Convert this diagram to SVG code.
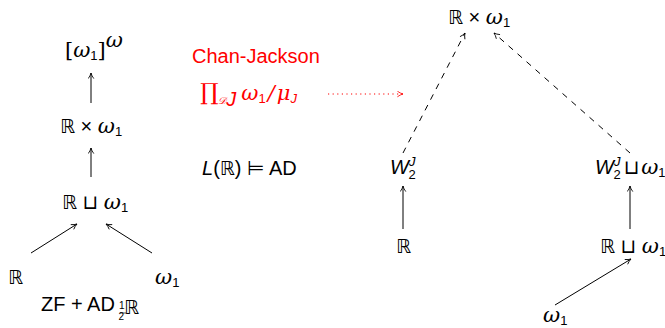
<svg xmlns="http://www.w3.org/2000/svg" width="665" height="328" viewBox="0 0 665 328">
<defs>
<style>
text{font-family:"Liberation Sans","DejaVu Sans",sans-serif;font-size:20px;fill:#000}
.m{font-family:"Liberation Sans",sans-serif;font-style:italic;font-size:20px}
.w{font-family:"DejaVu Serif",serif;font-style:italic;font-size:21px}
.bb{font-family:"DejaVu Sans",sans-serif;font-size:19px}
.s{font-size:13px}
.red{fill:#ff0000}
.ln{stroke:#000;stroke-width:1;fill:none}
.da{stroke-dasharray:6,6}
.dot{stroke:#ff0000;stroke-dasharray:1.2,3.4}
</style>
<marker id="ah" viewBox="0 0 10 10" refX="9" refY="5" markerWidth="7" markerHeight="7" orient="auto" markerUnits="userSpaceOnUse">
<path d="M1,1 Q5,4 9,5 Q5,6 1,9" fill="none" stroke="#000" stroke-width="1.2"/>
</marker>
<marker id="ahr" viewBox="0 0 10 10" refX="9" refY="5" markerWidth="7" markerHeight="7" orient="auto" markerUnits="userSpaceOnUse">
<path d="M1,1 Q5,4 9,5 Q5,6 1,9" fill="none" stroke="#ff0000" stroke-width="1.2"/>
</marker>
</defs>
<rect width="665" height="328" fill="#fff"/>

<g id="connectors">
<line class="ln" x1="91" y1="103" x2="91" y2="73" marker-end="url(#ah)"/>
<line class="ln" x1="91" y1="177" x2="91" y2="148" marker-end="url(#ah)"/>
<line class="ln" x1="31" y1="253" x2="77" y2="224" marker-end="url(#ah)"/>
<line class="ln" x1="152" y1="253" x2="106" y2="224" marker-end="url(#ah)"/>
<line class="ln dot" x1="328" y1="94" x2="403" y2="94" marker-end="url(#ahr)"/>
<line class="ln da" x1="403" y1="153" x2="465" y2="33" marker-end="url(#ah)"/>
<line class="ln da" x1="630" y1="153" x2="494" y2="33" marker-end="url(#ah)"/>
<line class="ln" x1="403" y1="229" x2="403" y2="186" marker-end="url(#ah)"/>
<line class="ln" x1="630" y1="229" x2="630" y2="186" marker-end="url(#ah)"/>
<line class="ln" x1="555" y1="305" x2="631" y2="259" marker-end="url(#ah)"/>
</g>

<g id="n_omega1_pow">
<text x="65" y="57"><tspan font-family="DejaVu Serif" font-size="21">[</tspan><tspan class="w">ω</tspan><tspan class="s" dy="3">1</tspan><tspan dy="-3" font-family="DejaVu Serif" font-size="21">]</tspan><tspan class="w" font-size="12" dy="-10">ω</tspan></text>
</g>
<g id="n_RxW_left">
<text x="60" y="133"><tspan class="bb">ℝ</tspan> × <tspan class="w">ω</tspan><tspan class="s" dy="3">1</tspan></text>
</g>
<g id="n_RuW_left">
<text x="62" y="209"><tspan class="bb">ℝ</tspan> ⊔ <tspan class="w">ω</tspan><tspan class="s" dy="3">1</tspan></text>
</g>
<g id="n_R_left">
<text x="8" y="284" class="bb">ℝ</text>
</g>
<g id="n_w1_left">
<text x="155" y="284"><tspan class="w">ω</tspan><tspan class="s" dy="3">1</tspan></text>
</g>
<g id="n_zf">
<text x="41" y="311">ZF + AD<tspan dx="4" font-size="10" dy="-2">1</tspan><tspan font-size="10" dx="-6" dy="11">2</tspan><tspan class="bb" font-size="12" dy="-6">ℝ</tspan></text>
<line x1="120" y1="313" x2="126" y2="313" stroke="#000" stroke-width="0.7"/>
</g>

<g id="n_chan">
<text x="192" y="63" class="red">Chan-Jackson</text>
</g>
<g id="n_prod">
<text x="200" y="100" class="red"><tspan font-family="DejaVu Serif" font-size="23">∏</tspan><tspan font-family="DejaVu Serif" font-style="italic" font-size="10" dy="4">𝒟</tspan><tspan class="m" font-size="8" dy="2">J</tspan><tspan class="w" dx="5" dy="-6">ω</tspan><tspan class="s" dy="3">1</tspan><tspan dy="-3" font-family="DejaVu Serif" font-style="italic" font-size="21" dx="2">/</tspan><tspan class="w" dx="2">μ</tspan><tspan class="m s" dy="3">J</tspan></text>
</g>
<g id="n_LR">
<text x="202" y="175"><tspan class="m">L</tspan>(<tspan class="bb">ℝ</tspan>) ⊨ AD</text>
</g>

<g id="n_RxW_right">
<text x="448" y="24"><tspan class="bb">ℝ</tspan> × <tspan class="w">ω</tspan><tspan class="s" dy="3">1</tspan></text>
</g>
<g id="n_W2J">
<text x="390" y="174"><tspan class="m">W</tspan><tspan class="m s" dy="-8">J</tspan><tspan class="s" dx="-7" dy="13">2</tspan></text>
</g>
<g id="n_R_right">
<text x="396" y="253" class="bb">ℝ</text>
</g>
<g id="n_W2Ju">
<text x="595" y="174"><tspan class="m">W</tspan><tspan class="m s" dy="-8">J</tspan><tspan class="s" dx="-7" dy="13">2</tspan><tspan dy="-5" dx="3">⊔</tspan><tspan class="w" dx="2">ω</tspan><tspan class="s" dy="3">1</tspan></text>
</g>
<g id="n_RuW_right">
<text x="600" y="253"><tspan class="bb">ℝ</tspan> ⊔ <tspan class="w">ω</tspan><tspan class="s" dy="3">1</tspan></text>
</g>
<g id="n_w1_right">
<text x="543" y="322"><tspan class="w">ω</tspan><tspan class="s" dy="3">1</tspan></text>
</g>
</svg>
